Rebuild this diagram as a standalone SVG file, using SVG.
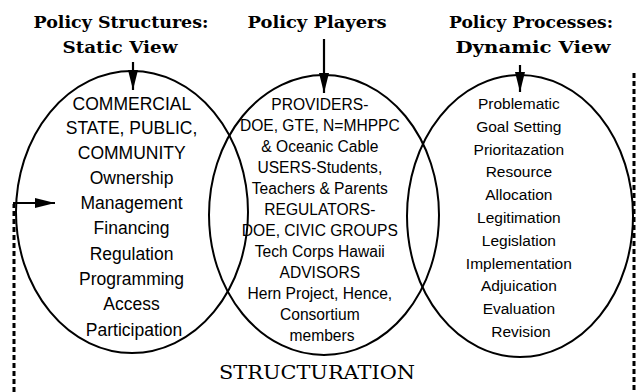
<svg xmlns="http://www.w3.org/2000/svg" width="637" height="392" viewBox="0 0 637 392">
  <style>
    .title { font-family: "DejaVu Serif", "Liberation Serif", serif; font-size: 17px; font-weight: bold; fill: #000; text-anchor: middle; }
    .plain { font-family: "DejaVu Serif", "Liberation Serif", serif; font-size: 19px; fill: #000; text-anchor: middle; }
    .body { font-family: "Liberation Sans", Arial, sans-serif; fill: #000; text-anchor: middle; }
    .ring { fill: none; stroke: #000; stroke-width: 2; }
    .wire { fill: none; stroke: #000; stroke-width: 2.2; }
    .loop { fill: none; stroke: #000; stroke-width: 3; stroke-dasharray: 5 3; }
  </style>
  <defs>
    <marker id="head" viewBox="0 0 20 10" refX="20" refY="5" markerWidth="20" markerHeight="10" markerUnits="userSpaceOnUse" orient="auto">
      <path d="M0,0 L20,5 L0,10 Z" fill="#000"/>
    </marker>
  </defs>
  <rect width="637" height="392" fill="#fff"/>

  <!-- column headings -->
  <text class="title" x="121" y="28" textLength="175" lengthAdjust="spacingAndGlyphs">Policy Structures:</text>
  <text class="title" x="120" y="53" textLength="115" lengthAdjust="spacingAndGlyphs">Static View</text>
  <text class="title" x="317" y="28" textLength="139" lengthAdjust="spacingAndGlyphs">Policy Players</text>
  <text class="title" x="531" y="28" textLength="164" lengthAdjust="spacingAndGlyphs">Policy Processes:</text>
  <text class="title" x="533" y="53" textLength="155" lengthAdjust="spacingAndGlyphs">Dynamic View</text>

  <!-- structures -->
  <g id="structures">
    <ellipse class="ring" cx="132" cy="212" rx="116" ry="141"/>
    <text class="body" font-size="17.5" x="134">
      <tspan x="134" y="110">COMMERCIAL</tspan>
      <tspan x="134" y="134">STATE, PUBLIC,</tspan>
      <tspan x="134" y="159">COMMUNITY</tspan>
      <tspan x="134" y="184">Ownership</tspan>
      <tspan x="134" y="209">Management</tspan>
      <tspan x="134" y="234">Financing</tspan>
      <tspan x="134" y="260">Regulation</tspan>
      <tspan x="134" y="285">Programming</tspan>
      <tspan x="134" y="310">Access</tspan>
      <tspan x="134" y="336">Participation</tspan>
    </text>
  </g>

  <!-- players -->
  <g id="players">
    <ellipse class="ring" cx="324" cy="215" rx="115" ry="140"/>
    <text class="body" font-size="15.6">
      <tspan x="322" y="110">PROVIDERS-</tspan>
      <tspan x="322" y="131">DOE, GTE, N=MHPPC</tspan>
      <tspan x="322" y="152">&amp; Oceanic Cable</tspan>
      <tspan x="322" y="173">USERS-Students,</tspan>
      <tspan x="322" y="194">Teachers &amp; Parents</tspan>
      <tspan x="322" y="215">REGULATORS-</tspan>
      <tspan x="322" y="236">DOE, CIVIC GROUPS</tspan>
      <tspan x="322" y="257">Tech Corps Hawaii</tspan>
      <tspan x="322" y="278">ADVISORS</tspan>
      <tspan x="322" y="299">Hern Project, Hence,</tspan>
      <tspan x="322" y="320">Consortium</tspan>
      <tspan x="322" y="341">members</tspan>
    </text>
  </g>

  <!-- processes -->
  <g id="processes">
    <ellipse class="ring" cx="520" cy="216" rx="113" ry="141"/>
    <text class="body" font-size="15.5">
      <tspan x="521" y="109">Problematic</tspan>
      <tspan x="521" y="132">Goal Setting</tspan>
      <tspan x="521" y="155">Prioritazation</tspan>
      <tspan x="521" y="177">Resource</tspan>
      <tspan x="521" y="200">Allocation</tspan>
      <tspan x="521" y="223">Legitimation</tspan>
      <tspan x="521" y="246">Legislation</tspan>
      <tspan x="521" y="269">Implementation</tspan>
      <tspan x="521" y="291">Adjuication</tspan>
      <tspan x="521" y="314">Evaluation</tspan>
      <tspan x="521" y="337">Revision</tspan>
    </text>
  </g>

  <g id="structuration">
    <text class="plain" x="317" y="379" textLength="196" lengthAdjust="spacingAndGlyphs">STRUCTURATION</text>
  </g>

  <!-- connectors -->
  <g id="connectors">
    <line class="wire" x1="133" y1="62" x2="133" y2="90" marker-end="url(#head)"/>
    <line class="wire" x1="324" y1="39" x2="324" y2="93" marker-end="url(#head)"/>
    <line class="wire" x1="520" y1="65" x2="520" y2="92" marker-end="url(#head)"/>
    <path class="loop" d="M14,392 L14,204"/>
    <line class="wire" x1="13" y1="203" x2="55" y2="203" marker-end="url(#head)"/>
    <path class="loop" d="M634,73 L634,392"/>
  </g>
</svg>
